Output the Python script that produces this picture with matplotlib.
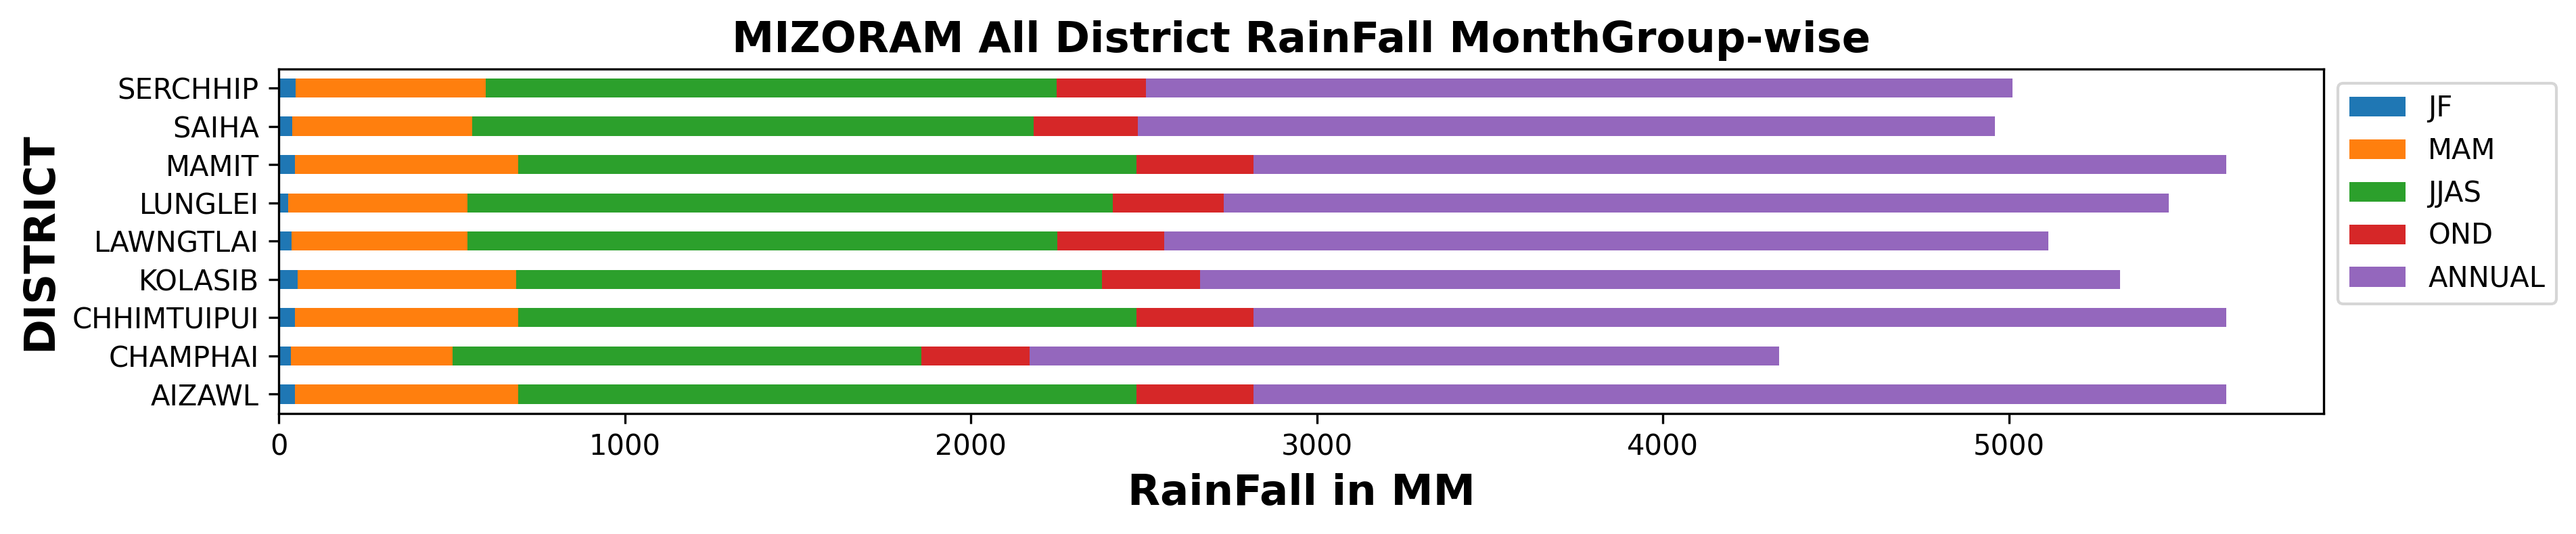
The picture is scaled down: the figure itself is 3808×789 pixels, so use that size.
import pandas as pd
import matplotlib
matplotlib.use("Agg")
import matplotlib.pyplot as plt

# District rainfall (mm) by month group
districts = ["AIZAWL", "CHAMPHAI", "CHHIMTUIPUI", "KOLASIB", "LAWNGTLAI",
             "LUNGLEI", "MAMIT", "SAIHA", "SERCHHIP"]
jf = [46, 36, 46, 55, 37, 28, 46, 39, 49]
mam = [645, 467, 645, 631, 508, 517, 645, 520, 549]
jjas = [1788, 1353, 1788, 1692, 1705, 1865, 1788, 1623, 1650]
ond = [337, 313, 337, 284, 308, 321, 337, 300, 258]
annual = [2812, 2167, 2812, 2658, 2556, 2731, 2812, 2477, 2504]

df = pd.DataFrame({
    "JF": jf,
    "MAM": mam,
    "JJAS": jjas,
    "OND": ond,
    "ANNUAL": annual,
}, index=districts)
df.index.name = "DISTRICT"

fig = plt.figure(figsize=(3808 / 300, 789 / 300), dpi=300)
ax = fig.add_axes([0.1082, 0.226, 0.9021 - 0.1082, 0.8711 - 0.226])
df.plot.barh(stacked=True, ax=ax)

ax.set_title("MIZORAM All District RainFall MonthGroup-wise",
             fontsize=15, fontweight="bold")
ax.set_xlabel("RainFall in MM", fontsize=15, fontweight="bold")
ax.set_ylabel("DISTRICT", fontsize=15, fontweight="bold")
ax.legend(loc="upper left", bbox_to_anchor=(1, 1))

fig.savefig("out.png", dpi=300)
